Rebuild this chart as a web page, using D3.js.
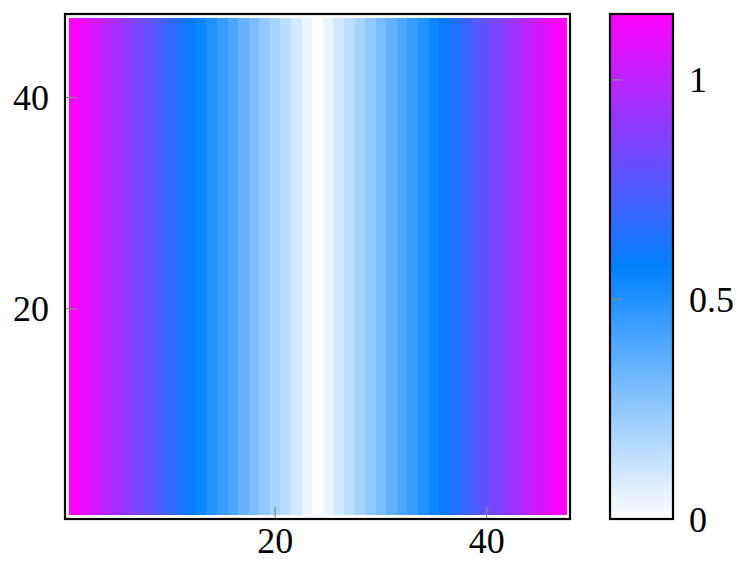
<!DOCTYPE html>
<html><head><meta charset="utf-8">
<script src="https://cdn.jsdelivr.net/npm/d3@7"></script>
<style>body{margin:0;background:#fff}svg{display:block}text{font-family:"Liberation Serif","DejaVu Serif",serif;fill:#000}</style>
</head><body><svg id="c" width="738" height="561"></svg>
<script>
// Column indices (x) and row indices (y) of the matrix
const cols = d3.range(1, 48);
const rows = d3.range(1, 48);
// value of each column (constant along y)
const colValues = [1.15,1.10,1.05,1.00,0.95,0.90,0.85,0.80,0.75,0.70,0.65,0.60,0.55,0.50,0.45,0.40,0.35,0.30,0.25,0.20,0.15,0.10,0.05,0.00,0.05,0.10,0.15,0.20,0.25,0.30,0.35,0.40,0.45,0.50,0.55,0.60,0.65,0.70,0.75,0.80,0.85,0.90,0.95,1.00,1.05,1.10,1.15];
const xTicks = [20, 40];
const yTicks = [20, 40];
const cbTicks = [0, 0.5, 1];
const cbLabels = ["0", "0.5", "1"];
const colorStops = ["#ffffff", "#0080ff", "#ff00ff"];
const metaMax = 1.15;

const svg = d3.select("#c");
const L = 65, R = 570, T = 14, B = 519;
const FS = 36;
const x = d3.scaleLinear().domain([0.12, 47.88]).range([L, R]);
const y = d3.scaleLinear().domain([0.1, 47.9]).range([B, T]);
const color = d3.scaleLinear().domain([0, metaMax / 2, metaMax]).range(colorStops).interpolate(d3.interpolateRgb);

const cells = [];
rows.forEach(r => cols.forEach((c, i) => cells.push({c, r, v: colValues[i]})));
svg.append("g").attr("shape-rendering", "crispEdges").selectAll("rect").data(cells).join("rect")
  .attr("x", d => x(d.c - 0.5))
  .attr("y", d => y(d.r + 0.5))
  .attr("width", d => x(d.c + 0.5) - x(d.c - 0.5) + 0.6)
  .attr("height", d => y(d.r - 0.5) - y(d.r + 0.5) + 0.6)
  .attr("fill", d => color(d.v));

// ticks (inward, gray)
const g = svg.append("g");
xTicks.forEach(t => {
  g.append("line").attr("x1", x(t)).attr("x2", x(t)).attr("y1", B).attr("y2", B - 12)
    .attr("stroke", "#888").attr("stroke-width", 1.2);
  g.append("text").attr("x", x(t)).attr("y", 553).attr("text-anchor", "middle")
    .attr("font-size", FS).text(t);
});
yTicks.forEach(t => {
  g.append("line").attr("x1", L).attr("x2", L + 12).attr("y1", y(t)).attr("y2", y(t))
    .attr("stroke", "#888").attr("stroke-width", 1.2);
  g.append("text").attr("x", 49).attr("y", y(t)).attr("dy", "0.35em").attr("text-anchor", "end")
    .attr("font-size", FS).text(t);
});
svg.append("rect").attr("x", L).attr("y", T).attr("width", R - L).attr("height", B - T)
  .attr("fill", "none").attr("stroke", "#000").attr("stroke-width", 2.2);

// colorbar
const cbL = 610, cbR = 673;
const cy = d3.scaleLinear().domain([0, metaMax]).range([B, T]);
const defs = svg.append("defs");
const grad = defs.append("linearGradient").attr("id", "cb").attr("x1", 0).attr("y1", 1).attr("x2", 0).attr("y2", 0);
colorStops.forEach((c, i) => grad.append("stop").attr("offset", i / (colorStops.length - 1)).attr("stop-color", c));
svg.append("rect").attr("x", cbL).attr("y", T).attr("width", cbR - cbL).attr("height", B - T).attr("fill", "url(#cb)");
cbTicks.forEach((t, i) => {
  svg.append("line").attr("x1", cbL).attr("x2", cbL + 12).attr("y1", cy(t)).attr("y2", cy(t))
    .attr("stroke", "#888").attr("stroke-width", 1.2);
  svg.append("text").attr("x", 689).attr("y", cy(t)).attr("dy", "0.35em").attr("font-size", FS).text(cbLabels[i]);
});
svg.append("rect").attr("x", cbL).attr("y", T).attr("width", cbR - cbL).attr("height", B - T)
  .attr("fill", "none").attr("stroke", "#000").attr("stroke-width", 2.2);
</script></body></html>
